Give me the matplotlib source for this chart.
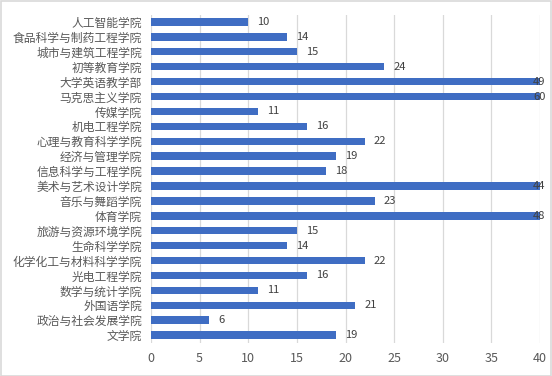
import matplotlib
matplotlib.use("Agg")
import matplotlib.pyplot as plt
from matplotlib.patches import Rectangle

plt.rcParams['font.family'] = ['Noto Sans CJK SC', 'DejaVu Sans']

categories = ["人工智能学院", "食品科学与制药工程学院", "城市与建筑工程学院", "初等教育学院",
              "大学英语教学部", "马克思主义学院", "传媒学院", "机电工程学院",
              "心理与教育科学学院", "经济与管理学院", "信息科学与工程学院", "美术与艺术设计学院",
              "音乐与舞蹈学院", "体育学院", "旅游与资源环境学院", "生命科学学院",
              "化学化工与材料科学学院", "光电工程学院", "数学与统计学院", "外国语学院",
              "政治与社会发展学院", "文学院"]
values = [10, 14, 15, 24, 49, 60, 11, 16, 22, 19, 18, 44, 23, 48, 15, 14, 22, 16, 11, 21, 6, 19]
xticks = [0, 5, 10, 15, 20, 25, 30, 35, 40]
xmax = 40

W, H = 552, 376
fig = plt.figure(figsize=(W / 100, H / 100), dpi=100)
ax = fig.add_axes([151 / W, 1 - 342.5 / H, (540 - 151) / W, (342.5 - 14.5) / H])

n = len(categories)
ypos = list(range(n))
bar_color = "#3f6dc3"
ax.barh(ypos, values, height=0.5, color=bar_color, zorder=3)
ax.set_xlim(0, xmax)
ax.set_ylim(n - 0.5, -0.5)
ax.set_yticks(ypos)
ax.set_yticklabels(categories, fontsize=8.5, color="#595959")
ax.set_xticks(xticks)
ax.set_xticklabels([str(t) for t in xticks], fontsize=9, color="#595959")
ax.tick_params(axis='both', length=0)
ax.tick_params(axis='y', pad=6.5)
ax.tick_params(axis='x', pad=7)
ax.grid(axis='x', color="#d9d9d9", linewidth=0.9, zorder=0)
for s in ax.spines.values():
    s.set_visible(False)

for y, v in zip(ypos, values):
    if v > xmax:
        ax.annotate(str(v), (xmax, y), xytext=(-5, 0), textcoords='offset points',
                    ha='left', va='center', fontsize=8, color="#404040",
                    annotation_clip=False, zorder=4)
    else:
        ax.annotate(str(v), (v, y), xytext=(6.5, 0), textcoords='offset points',
                    ha='left', va='center', fontsize=8, color="#404040", zorder=4)

fig.patches.append(Rectangle((0.5 / W, 0.5 / H), 1 - 1.5 / W, 1 - 1.5 / H,
                             transform=fig.transFigure, fill=False,
                             edgecolor="#d9d9d9", linewidth=1.2))

fig.savefig("out.png", dpi=100)
